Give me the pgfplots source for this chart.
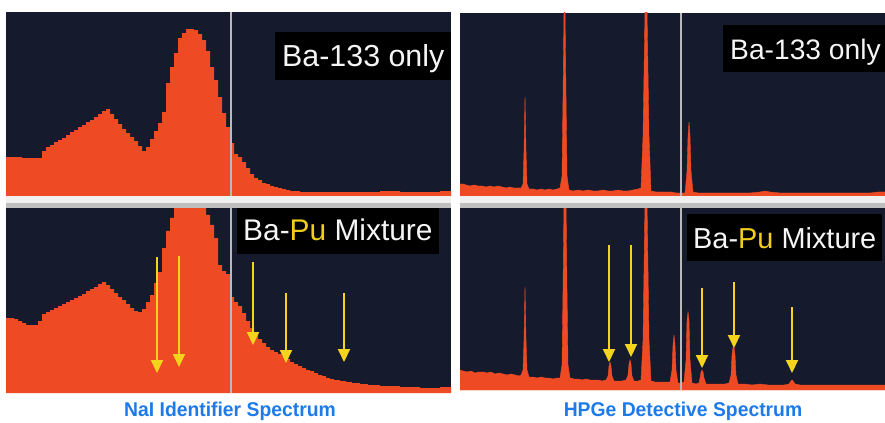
\documentclass[border=0pt]{standalone}
\usepackage{fontspec}
\setmainfont{Liberation Sans}
\usepackage{pgfplots}
\pgfplotsset{compat=1.18}
\usetikzlibrary{arrows.meta}

\definecolor{navy}{RGB}{22,26,45}
\definecolor{spec}{RGB}{238,74,36}
\definecolor{arrowy}{RGB}{245,212,30}
\definecolor{capblue}{RGB}{30,122,232}
\definecolor{pu}{RGB}{240,205,30}

\pgfplotsset{
  panel/.style={scale only axis, anchor=south west, axis line style={draw=none},
    ticks=none, axis background/.style={fill=navy}, enlargelimits=false, ymin=0},
  hist/.style={const plot, fill=spec, draw=none},
  spike/.style={fill=spec, draw=spec, line width=0.4bp},
  yarrow/.style={arrowy, line width=2bp, -{Triangle[width=12bp,length=13bp]}},
}
\tikzset{
  tag/.style={fill=black, text=white!92!gray, anchor=west, inner xsep=7bp,
    minimum height=47bp, text height=21bp, text depth=0bp},
}

\begin{document}
\begin{tikzpicture}[x=1bp,y=1bp]
\useasboundingbox (0,0) rectangle (885,422);

% ---- NaI, Ba-133 only
\begin{axis}[panel, at={(6,226)}, width=445bp, height=184bp, xmin=6, xmax=451, ymax=184]
\addplot[hist] coordinates {
(6,39) (10,39) (14,39) (18,39) (22,38) (26,38) (30,38) (34,38) (38,38) (42,45)
(46,49) (50,51) (54,54) (58,56) (62,58) (66,61) (70,64) (74,66) (78,69) (82,71)
(86,74) (90,76) (94,79) (98,82) (102,85) (106,87) (110,82) (114,77) (118,72) (122,67)
(126,63) (130,59) (134,55) (138,50) (142,45) (146,49) (150,57) (154,65) (158,73) (162,84)
(166,113) (170,129) (174,143) (178,158) (182,163) (186,167) (190,167) (194,166) (198,162) (202,156)
(206,145) (210,129) (214,116) (218,99) (222,83) (226,69) (230,53) (234,42) (238,39) (242,34)
(246,28) (250,22) (254,18) (258,16) (262,13) (266,12) (270,10) (274,9) (278,8) (282,7)
(286,6) (290,5) (295,5) (300,4) (310,4) (320,4) (340,4) (360,4) (380,5) (400,4)
(420,4) (440,5) (451,4)} \closedcycle;
\draw[gray!55, line width=1.3bp] (axis cs:231,0) -- (axis cs:231,184);
\node[tag, font=\fontsize{30.5}{30.5}\selectfont] at (axis cs:275,140) {Ba-133 only};
\end{axis}

% ---- NaI, Ba-Pu mixture
\begin{axis}[panel, at={(6,29)}, width=445bp, height=185bp, xmin=6, xmax=451, ymax=185]
\addplot[hist] coordinates {
(6,75) (10,75) (14,74) (18,72) (22,70) (26,68) (30,68) (34,68) (38,72) (42,79)
(46,81) (50,83) (54,85) (58,87) (62,89) (66,91) (70,93) (74,95) (78,97) (82,99)
(86,102) (90,104) (94,106) (98,109) (102,111) (106,108) (110,104) (114,100) (118,96) (122,93)
(126,89) (130,85) (134,82) (138,81) (142,84) (146,91) (150,98) (154,110) (158,121) (162,145)
(166,162) (170,175) (174,190) (178,190) (182,190) (186,190) (190,190) (194,190) (198,190) (202,190)
(206,178) (210,168) (214,155) (218,128) (222,122) (226,119) (230,96) (234,91) (238,87) (242,80)
(246,72) (250,65) (254,59) (258,54) (262,50) (266,46) (270,43) (274,41) (278,39) (282,37)
(286,34) (290,31) (294,29) (298,27) (302,25) (306,23) (310,22) (314,20) (318,18) (322,17)
(326,15) (330,14) (334,13) (340,12) (346,11) (352,10) (360,9) (368,8) (380,7) (400,6)
(420,5) (440,6) (451,6)} \closedcycle;
\draw[gray!55, line width=1.3bp] (axis cs:231,0) -- (axis cs:231,185);
\addplot[yarrow] coordinates {(157,136) (157,20)};
\addplot[yarrow] coordinates {(179,137) (179,26)};
\addplot[yarrow] coordinates {(253,131) (253,48)};
\addplot[yarrow] coordinates {(286,100) (286,30)};
\addplot[yarrow] coordinates {(344,100) (344,31)};
\node[tag, inner xsep=6bp, font=\fontsize{30}{30}\selectfont] at (axis cs:237,163) {Ba-\textcolor{pu}{Pu} Mixture};
\end{axis}

% ---- HPGe, Ba-133 only
\begin{axis}[panel, at={(460,226)}, width=425bp, height=183bp, xmin=460, xmax=885, ymax=183]
\addplot[spike] coordinates {
(460,12) (463,12) (466,11) (470,10) (474,11) (478,10) (482,10) (486,9) (490,10) (494,9)
(498,10) (502,9) (506,8) (510,9) (514,8) (518,8) (521,8) (523,12) (524,45) (525,99)
(526,45) (527,12) (529,7) (533,7) (537,6) (541,7) (545,6) (549,7) (553,6) (557,7)
(560,8) (562,20) (563,100) (564,186) (565,186) (566,100) (567,20) (569,6) (573,5) (578,6)
(583,5) (588,6) (593,5) (598,5) (603,6) (608,5) (613,5) (618,6) (623,5) (628,5)
(633,6) (638,7) (641,8) (643,60) (645,186) (647,186) (649,60) (651,5) (656,4) (661,4)
(666,4) (671,4) (676,3) (681,3) (685,3) (687,25) (688,60) (689,74) (690,60) (691,25)
(693,4) (698,3) (705,3) (712,3) (720,3) (730,3) (740,3) (750,3) (760,4) (765,5)
(770,4) (780,3) (790,3) (800,3) (810,3) (820,3) (830,3) (840,3) (850,3) (860,3)
(870,3) (878,4) (885,4)} \closedcycle;
\draw[gray!55, line width=1.3bp] (axis cs:681,0) -- (axis cs:681,183);
\node[tag, font=\fontsize{28.3}{28.3}\selectfont] at (axis cs:723,147) {Ba-133 only};
\end{axis}

% ---- HPGe, Ba-Pu mixture
\begin{axis}[panel, at={(460,32)}, width=425bp, height=182bp, xmin=460, xmax=885, ymax=182]
\addplot[spike] coordinates {
(460,20) (463,19) (467,18) (471,19) (475,17) (479,18) (483,18) (487,17) (491,18) (495,16)
(499,17) (503,16) (507,15) (511,16) (515,15) (519,14) (521,15) (523,20) (524,50) (525,103)
(526,50) (527,20) (529,13) (533,13) (537,12) (541,13) (545,12) (549,12) (553,11) (557,12)
(560,12) (562,25) (563,100) (564,190) (566,190) (567,100) (568,25) (570,12) (574,11) (578,11)
(582,10) (586,11) (590,10) (594,10) (598,10) (602,9) (606,10) (608,14) (609,24) (610,28)
(611,24) (612,14) (614,9) (618,9) (622,9) (626,10) (628,15) (629,26) (630,30) (631,26)
(632,14) (634,9) (638,9) (641,10) (643,50) (645,190) (647,190) (649,50) (651,9) (655,8)
(659,8) (663,8) (667,8) (670,8) (672,20) (673,45) (674,55) (675,45) (676,20) (678,7)
(681,7) (684,8) (686,30) (687,70) (688,78) (689,70) (690,30) (692,7) (696,6) (699,7)
(700,12) (701,18) (702,20) (703,18) (704,12) (706,6) (710,6) (715,6) (720,6) (725,6)
(729,7) (731,15) (732,35) (733,43) (734,43) (735,35) (736,15) (738,6) (745,6) (752,5)
(760,6) (768,5) (776,5) (784,5) (789,6) (791,9) (792,10) (793,9) (795,6) (800,5)
(810,5) (820,5) (830,5) (840,5) (850,5) (860,5) (870,5) (880,5) (885,5)} \closedcycle;
\draw[gray!55, line width=1.3bp] (axis cs:681,0) -- (axis cs:681,182);
\addplot[yarrow] coordinates {(609,145) (609,28)};
\addplot[yarrow] coordinates {(631,145) (631,33)};
\addplot[yarrow] coordinates {(702,102) (702,22)};
\addplot[yarrow] coordinates {(734,108) (734,42)};
\addplot[yarrow] coordinates {(792,83) (792,17)};
\node[tag, inner xsep=6bp, font=\fontsize{29}{29}\selectfont] at (axis cs:687,152) {Ba-\textcolor{pu}{Pu} Mixture};
\end{axis}

% separator bars between the two spectra of each detector
\fill[gray!12] (6,219) rectangle (451,226);
\fill[gray!50] (6,214) rectangle (451,219);
\fill[gray!12] (460,219) rectangle (885,226);
\fill[gray!50] (460,214) rectangle (885,219);

\node[text=capblue, font=\bfseries\fontsize{20}{20}\selectfont] at (230,11) {\scalebox{0.97}[1]{NaI Identifier Spectrum}};
\node[text=capblue, font=\bfseries\fontsize{20}{20}\selectfont] at (683,11) {\scalebox{0.97}[1]{HPGe Detective Spectrum}};
\end{tikzpicture}
\end{document}
